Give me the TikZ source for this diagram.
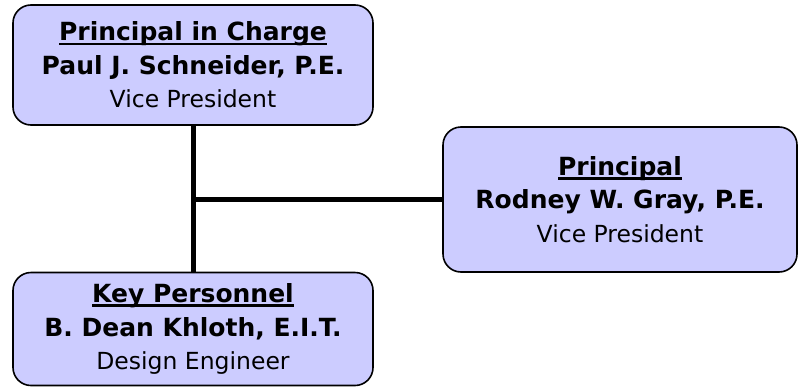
\documentclass[tikz,border=0pt]{standalone}
\usepackage{fontspec}
\setmainfont{DejaVu Sans}
\usepackage{tikz}
\usetikzlibrary{positioning}

\definecolor{boxfill}{HTML}{CCCCFF}
\newsavebox{\headbox}
\newcommand{\rolehead}[1]{\sbox{\headbox}{\textbf{#1}}%
  \rlap{\rule[-4.5pt]{\wd\headbox}{2.6pt}}\usebox{\headbox}}
\newcommand{\rolename}[1]{\textbf{#1}}
\newcommand{\roletitle}[1]{{\fontsize{23.5}{33}\selectfont #1}}

\begin{document}
\begin{tikzpicture}[
    x=1pt, y=-1pt,
    every node/.style={font=\fontsize{25}{33.5}\selectfont},
    person/.style={rectangle, draw, line width=1.6pt, rounded corners=18pt, fill=boxfill, align=center, inner sep=0pt},
    link/.style={line width=5pt},
]
    \useasboundingbox (0,0) rectangle (799,388);

    \node[person, minimum width=360pt, minimum height=120pt] (pic) at (193,65)
        {\rolehead{Principal in Charge}\\\rolename{Paul J. Schneider, P.E.}\\\roletitle{Vice President}};
    \node[person, minimum width=354pt, minimum height=145pt] (prin) at (620,199.5)
        {\rolehead{Principal}\\\rolename{Rodney W. Gray, P.E.}\\\roletitle{Vice President}};
    \node[person, minimum width=360pt, minimum height=113pt] (key) at (193,329)
        {\rolehead{Key Personnel}\\\rolename{B. Dean Khloth, E.I.T.}\\\roletitle{Design Engineer}};

    \coordinate (jn) at (pic.south |- prin.west);

    \draw[link] (pic) -- (key);
    \draw[link] (jn) -- (prin);
\end{tikzpicture}
\end{document}
